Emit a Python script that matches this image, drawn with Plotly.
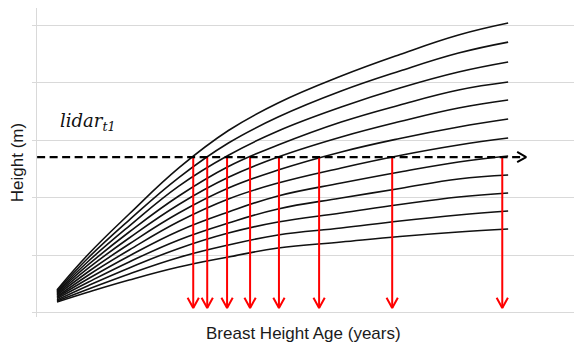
import plotly.graph_objects as go

# Breast height age (years) at which each site curve is sampled
ages = [0, 7, 16, 27, 38, 49, 63, 76, 89, 100]

# Height (m) of each site index curve at the ages above, tallest site first
si_curves = [
    [2.00, 5.12, 8.59, 12.59, 15.84, 18.23, 20.57, 22.44, 24.13, 25.17],
    [1.91, 4.82, 8.07, 11.76, 14.76, 17.01, 19.27, 21.01, 22.57, 23.52],
    [1.82, 4.51, 7.55, 11.02, 13.70, 15.80, 17.88, 19.53, 20.92, 21.79],
    [1.74, 4.21, 7.03, 10.16, 12.72, 14.58, 16.58, 18.06, 19.36, 20.05],
    [1.65, 3.91, 6.51, 9.42, 11.78, 13.54, 15.28, 16.62, 17.80, 18.49],
    [1.56, 3.60, 5.99, 8.68, 10.85, 12.41, 13.98, 15.15, 16.15, 16.84],
    [1.43, 3.30, 5.47, 7.94, 9.90, 11.28, 12.59, 13.67, 14.58, 15.19],
    [1.35, 2.99, 4.95, 7.12, 8.77, 10.16, 11.28, 12.24, 13.11, 13.63],
    [1.26, 2.69, 4.43, 6.34, 7.81, 9.03, 9.98, 10.81, 11.63, 11.98],
    [1.13, 2.39, 3.91, 5.60, 6.94, 7.90, 8.68, 9.42, 10.07, 10.42],
    [1.04, 2.08, 3.39, 4.82, 5.90, 6.77, 7.38, 7.99, 8.51, 8.85],
    [0.95, 1.82, 2.86, 3.99, 4.86, 5.64, 6.16, 6.64, 7.03, 7.29],
]

# Lidar-measured height at t1 and the ages where it meets each curve
lidar_height = 13.54
lidar_line_start = -4.4
lidar_line_end = 104.0
crossing_ages = [30.2, 33.3, 37.7, 42.8, 49.2, 58.1, 74.3, 98.7]
arrow_floor = 0.43

# Axis ranges and gridline positions
x_range = [-4.43, 114.6]
y_range = [-0.35, 26.48]
y_grid = [0, 5, 10, 15, 20, 25]

# Arrowhead sizes in data units
head_dx_age = 2.0
head_dy_m = 0.45
red_head_dx = 1.25
red_head_dy = 0.9

fig = go.Figure()

for heights in si_curves:
    fig.add_trace(go.Scatter(
        x=ages, y=heights, mode="lines",
        line=dict(color="#111111", width=1.6, shape="spline", smoothing=1.2),
        hoverinfo="skip", showlegend=False,
    ))

# Red arrows dropping from the lidar height to the age axis
shaft_x, shaft_y, head_x, head_y = [], [], [], []
for a in crossing_ages:
    shaft_x += [a, a, None]
    shaft_y += [lidar_height, arrow_floor, None]
    head_x += [a - red_head_dx, a, a + red_head_dx, None]
    head_y += [arrow_floor + red_head_dy, arrow_floor, arrow_floor + red_head_dy, None]

fig.add_trace(go.Scatter(
    x=shaft_x, y=shaft_y, mode="lines",
    line=dict(color="#ff0000", width=2),
    hoverinfo="skip", showlegend=False,
))
fig.add_trace(go.Scatter(
    x=head_x, y=head_y, mode="lines",
    line=dict(color="#ff0000", width=2),
    hoverinfo="skip", showlegend=False,
))

# Dashed lidar height line with an open arrowhead
fig.add_trace(go.Scatter(
    x=[lidar_line_start, lidar_line_end - 0.6], y=[lidar_height, lidar_height],
    mode="lines", line=dict(color="#000000", width=2.2, dash="8px,4.5px"),
    hoverinfo="skip", showlegend=False,
))
fig.add_trace(go.Scatter(
    x=[lidar_line_end - head_dx_age, lidar_line_end, lidar_line_end - head_dx_age],
    y=[lidar_height + head_dy_m, lidar_height, lidar_height - head_dy_m],
    mode="lines", line=dict(color="#000000", width=2),
    hoverinfo="skip", showlegend=False,
))

fig.update_layout(
    width=574, height=343,
    margin=dict(l=37, r=0, t=8, b=26),
    paper_bgcolor="white", plot_bgcolor="white",
    font=dict(family="Liberation Sans, Arial, sans-serif", color="#000000"),
    xaxis=dict(range=x_range, showgrid=False, zeroline=False,
               showline=False, showticklabels=False, ticks=""),
    yaxis=dict(range=y_range, tickvals=y_grid, showgrid=True,
               gridcolor="#d9d9d9", gridwidth=1, zeroline=False,
               showline=True, linecolor="#d9d9d9", linewidth=1,
               ticks="outside", ticklen=4, tickcolor="#d9d9d9",
               showticklabels=False),
    annotations=[
        dict(text="Breast Height Age (years)", xref="paper", yref="paper",
             x=0.497, y=-0.052, xanchor="center", yanchor="middle",
             showarrow=False, font=dict(size=17, color="#1a1a1a")),
        dict(text="Height (m)", xref="paper", yref="paper",
             x=-0.036, y=0.50, xanchor="center", yanchor="middle",
             textangle=-90, showarrow=False,
             font=dict(size=17, color="#1a1a1a")),
        dict(text="<i>lidar<sub>t1</sub></i>", xref="paper", yref="paper",
             x=0.039, y=0.631, xanchor="left", yanchor="middle",
             showarrow=False,
             font=dict(family="DejaVu Serif, serif", size=18, color="#111111")),
    ],
)

fig.write_html("out.html")
